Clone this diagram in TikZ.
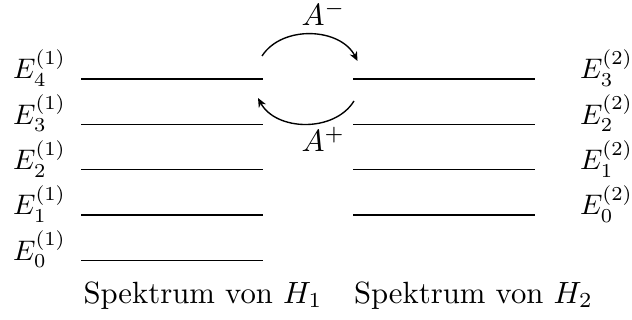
\documentclass[tikz,border=0pt]{standalone}
\usetikzlibrary{arrows.meta}
\begin{document}
\begin{tikzpicture}[x=0.3257pt,y=0.3257pt,
  level/.style={line width=0.45pt},
  elab/.style={inner sep=0pt,outer sep=0pt},
  elev/.style={elab,scale=0.92},
  trans/.style={-{Stealth[length=3pt,width=2.6pt]},line width=0.45pt}]
\useasboundingbox (0,0) rectangle (632,-320);
% left spectrum
\foreach \i/\y in {0/260.3,1/215,2/169.7,3/124.3,4/79}{
  \coordinate (La\i) at (81,-\y);
  \coordinate (Lb\i) at (262.5,-\y);
  \draw[level] (La\i) -- (Lb\i);
  \node[elev,anchor=base east] (Ll\i) at (66,-\y) {$E_{\i}^{(1)}$};
}
% right spectrum
\foreach \i/\y in {0/215,1/169.7,2/124.3,3/79}{
  \coordinate (Ra\i) at (353.3,-\y);
  \coordinate (Rb\i) at (535,-\y);
  \draw[level] (Ra\i) -- (Rb\i);
  \node[elev,anchor=base west] (Rl\i) at (580,-\y) {$E_{\i}^{(2)}$};
}
% captions
\node[elab,anchor=base west] (capL) at (83.5,-303.3) {Spektrum von $H_1$};
\node[elab,anchor=base west] (capR) at (354,-303.3) {Spektrum von $H_2$};
% transitions
\coordinate (m1) at (262,-56);
\coordinate (m2) at (357.5,-61);
\coordinate (p1) at (354,-101);
\coordinate (p2) at (258,-98);
\draw[trans] (m1) to[bend left=60] (m2);
\draw[trans] (p1) to[bend left=60] (p2);
\node[elab,anchor=base west] (Am) at (301.5,-26) {$A^-$};
\node[elab,anchor=base west] (Ap) at (301.5,-151.7) {$A^+$};
\end{tikzpicture}
\end{document}
